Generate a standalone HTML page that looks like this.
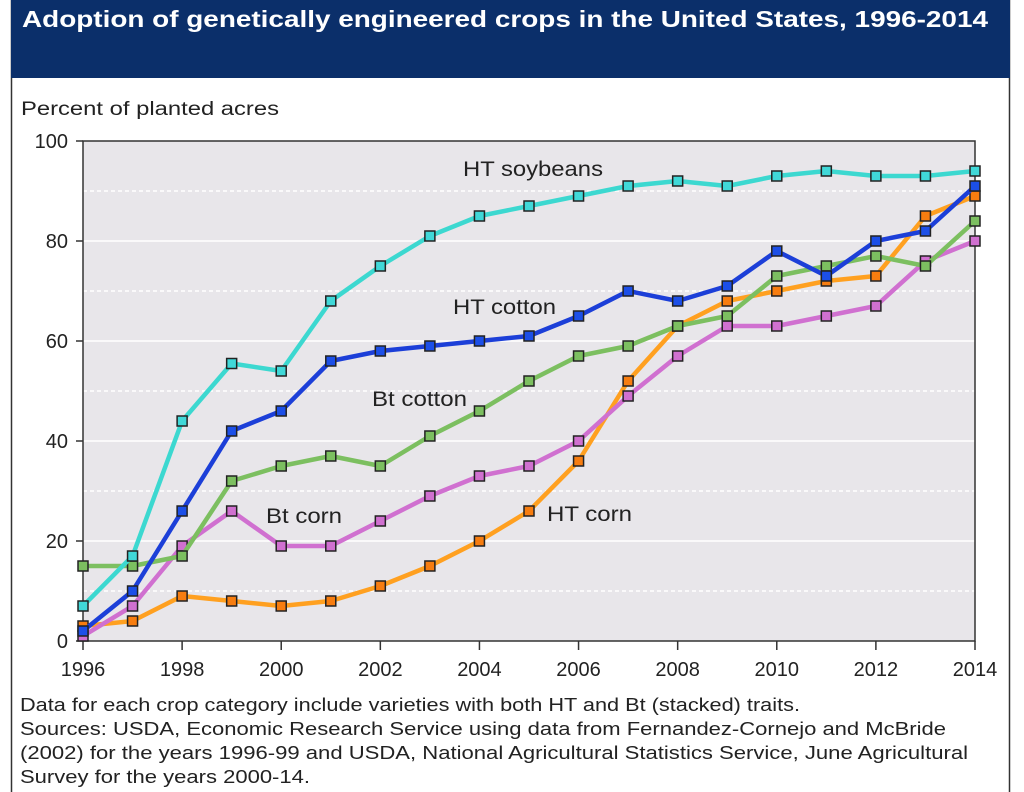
<!DOCTYPE html>
<html><head><meta charset="utf-8"><style>
html,body{margin:0;padding:0;background:#fff;}
svg{display:block;font-family:"Liberation Sans",sans-serif;}
</style></head><body>
<svg id="chart" width="1024" height="792" viewBox="0 0 1024 792">
<rect x="0" y="0" width="1024" height="792" fill="#fff"/>
<rect x="11.5" y="-2" width="998" height="800" fill="#fff" stroke="#333" stroke-width="1.5"/>
<rect x="11" y="0" width="999" height="78" fill="#0b2f6a"/>
<text x="22" y="27" fill="#fff" font-size="23" font-weight="bold" textLength="966" lengthAdjust="spacingAndGlyphs">Adoption of genetically engineered crops in the United States, 1996-2014</text>
<text x="21" y="115" fill="#222" font-size="19" textLength="258" lengthAdjust="spacingAndGlyphs">Percent of planted acres</text>
<rect x="83" y="141" width="892" height="500" fill="#e8e6ea"/>
<g id="grid"></g><g id="axes"></g><g id="series"></g>
<text x="463" y="176" font-size="21" fill="#222" textLength="140" lengthAdjust="spacingAndGlyphs">HT soybeans</text>
<text x="453" y="314" font-size="21" fill="#222" textLength="103" lengthAdjust="spacingAndGlyphs">HT cotton</text>
<text x="372" y="406" font-size="21" fill="#222" textLength="95" lengthAdjust="spacingAndGlyphs">Bt cotton</text>
<text x="266" y="523" font-size="21" fill="#222" textLength="76" lengthAdjust="spacingAndGlyphs">Bt corn</text>
<text x="547" y="521" font-size="21" fill="#222" textLength="85" lengthAdjust="spacingAndGlyphs">HT corn</text>
<g font-size="18" fill="#222">
<text x="20" y="711" textLength="780" lengthAdjust="spacingAndGlyphs">Data for each crop category include varieties with both HT and Bt (stacked) traits.</text>
<text x="20" y="735" textLength="926" lengthAdjust="spacingAndGlyphs">Sources: USDA, Economic Research Service using data from Fernandez-Cornejo and McBride</text>
<text x="20" y="759" textLength="948" lengthAdjust="spacingAndGlyphs">(2002) for the years 1996-99 and USDA, National Agricultural Statistics Service, June Agricultural</text>
<text x="20" y="783" textLength="290" lengthAdjust="spacingAndGlyphs">Survey for the years 2000-14.</text>
</g>
</svg>
<script>
const years=[1996,1997,1998,1999,2000,2001,2002,2003,2004,2005,2006,2007,2008,2009,2010,2011,2012,2013,2014];
const htSoybeans=[7,17,44,55.5,54,68,75,81,85,87,89,91,92,91,93,94,93,93,94];
const htCotton=[2,10,26,42,46,56,58,59,60,61,65,70,68,71,78,73,80,82,91];
const btCotton=[15,15,17,32,35,37,35,41,46,52,57,59,63,65,73,75,77,75,84];
const btCorn=[1,7,19,26,19,19,24,29,33,35,40,49,57,63,63,65,67,76,80];
const htCorn=[3,4,9,8,7,8,11,15,20,26,36,52,63,68,70,72,73,85,89];
const yTicks=[0,20,40,60,80,100];
const xTicks=[1996,1998,2000,2002,2004,2006,2008,2010,2012,2014];
const NS='http://www.w3.org/2000/svg';
const X=v=>83+(v-1996)*(892/18);
const Y=v=>641-v*5;
function mk(t,a,p){const e=document.createElementNS(NS,t);for(const k in a)e.setAttribute(k,a[k]);p.appendChild(e);return e;}
const grid=document.getElementById('grid'),axes=document.getElementById('axes'),ser=document.getElementById('series');
for(let v=10;v<100;v+=10){
  const l=mk('line',{x1:83,x2:975,y1:Y(v),y2:Y(v),stroke:'#fff','stroke-width':1.5,'stroke-dasharray':v%20?'4,3':'none'},grid);
  
  
}
const ax=mk('path',{d:`M83 ${Y(100)} H975 V641 H83 Z`,fill:'none',stroke:'#333','stroke-width':1.5},axes);


yTicks.forEach(v=>{
  mk('line',{x1:76,x2:83,y1:Y(v),y2:Y(v),stroke:'#333','stroke-width':1.5},axes);
  const t=mk('text',{x:68,y:Y(v)+7,'text-anchor':'end','font-size':20,fill:'#222'},axes);
  t.textContent=v;
  
  
});
xTicks.forEach(v=>{
  mk('line',{x1:X(v),x2:X(v),y1:641,y2:650,stroke:'#333','stroke-width':1.5},axes);
  const t=mk('text',{x:X(v),y:676,'text-anchor':'middle','font-size':20,fill:'#222'},axes);
  t.textContent=v;
  
  
});
const defs=[[htCorn,'#ffa020','#f77d10','ht-corn'],[btCorn,'#d070d0','#d070d0','bt-corn'],[btCotton,'#7cbf60','#7cbf60','bt-cotton'],[htCotton,'#1c3fd8','#1c4fe8','ht-cotton'],[htSoybeans,'#3cd8d0','#40d8d8','ht-soybeans']];
defs.forEach(([d,c,f,n])=>{
  const g=mk('g',{},ser);
  
  
  const p=mk('polyline',{points:d.map((v,i)=>X(years[i])+','+Y(v)).join(' '),fill:'none',stroke:c,'stroke-width':4.5,'stroke-linejoin':'round'},g);
  
  
  d.forEach((v,i)=>{
    const r=mk('rect',{x:X(years[i])-5,y:Y(v)-5,width:10,height:10,fill:f,stroke:'#222','stroke-width':1.5},g);
    
    
  });
});
</script>
</body></html>
